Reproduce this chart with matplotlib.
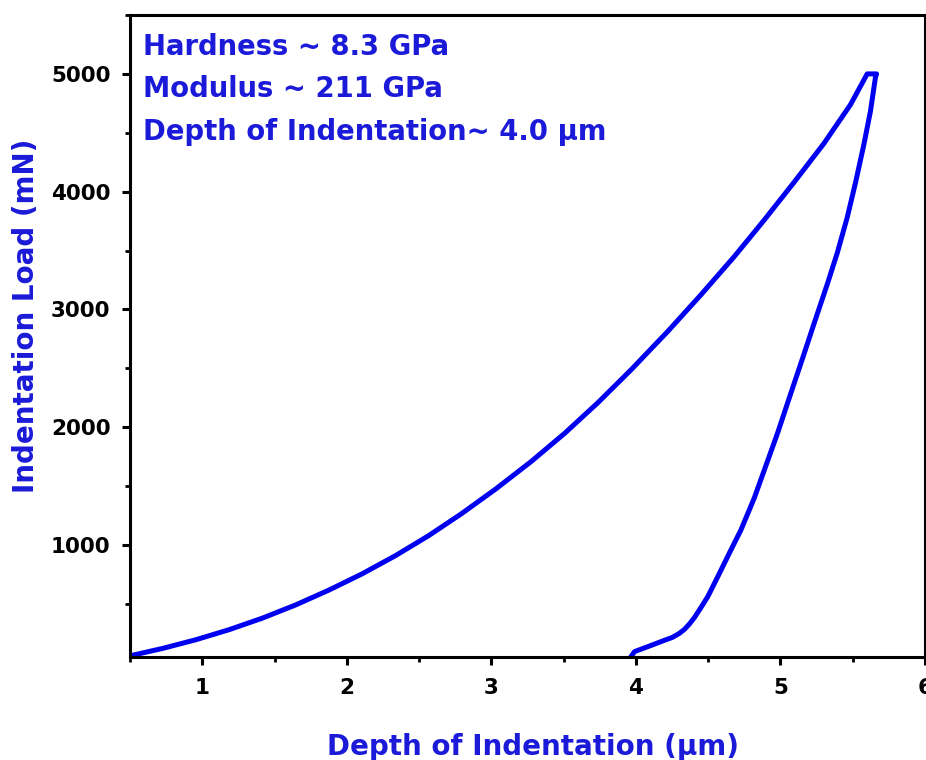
# Load-displacement curve from nanoindentation

import numpy as np
import matplotlib.pyplot as plt
from matplotlib.ticker import MultipleLocator

plt.rcParams['font.family'] = ['DejaVu Sans']
plt.rcParams['font.weight'] = 'bold'

# loading branch (depth in um, load in mN)
load_depth = [0.5, 0.726, 0.957, 1.186, 1.416, 1.646, 1.876, 2.106, 2.336, 2.566,
              2.795, 3.03, 3.276, 3.508, 3.738, 3.968, 4.221, 4.45, 4.681, 4.888,
              5.094, 5.301, 5.485, 5.60]
load_force = [60, 123, 197, 282, 380, 492, 618, 756, 910, 1080,
              1268, 1476, 1710, 1950, 2210, 2490, 2815, 3125, 3450, 3760,
              4080, 4410, 4740, 5000]

# hold at peak load
hold_depth = [5.60, 5.665]
hold_force = [5000, 5000]

# unloading branch
unload_depth = [5.665, 5.657, 5.623, 5.577, 5.519, 5.462, 5.393, 5.324, 5.232, 5.157,
                5.071, 4.979, 4.888, 4.819, 4.726, 4.657, 4.566, 4.497, 4.45, 4.405,
                4.37, 4.336, 4.30, 4.25, 4.198, 4.083, 3.991, 3.97]
unload_force = [5000, 4969, 4686, 4400, 4075, 3782, 3480, 3215, 2879, 2600,
                2286, 1947, 1636, 1400, 1127, 958, 731, 562, 470, 385,
                330, 285, 250, 215, 192, 138, 96, 60]

notes = ['Hardness ~ 8.3 GPa', 'Modulus ~ 211 GPa', 'Depth of Indentation~ 4.0 \u03bcm']

line_color = '#0000f0'
text_color = '#1a1ad8'

fig = plt.figure(figsize=(9.26, 7.6), dpi=100)
ax = fig.add_axes([130/926, 103/760, 795/926, 642/760])

depth = np.concatenate([load_depth, hold_depth, unload_depth])
force = np.concatenate([load_force, hold_force, unload_force])
ax.plot(depth, force, color=line_color, lw=3.6, solid_joinstyle='round')

# annotations
for idx, note in enumerate(notes):
    ax.text(0.0164, 0.9377 - idx * 0.0662, note, transform=ax.transAxes,
            color=text_color, fontsize=19.8, fontweight='bold', va='baseline', ha='left')

# plot params
ax.set_xlim(0.5, 6.0)
ax.set_ylim(50, 5500)
ax.xaxis.set_major_locator(MultipleLocator(1))
ax.xaxis.set_minor_locator(MultipleLocator(0.5))
ax.yaxis.set_major_locator(MultipleLocator(1000))
ax.yaxis.set_minor_locator(MultipleLocator(500))

for spine in ax.spines.values():
    spine.set_linewidth(2.2)
ax.tick_params(which='major', direction='out', length=6, width=2.2, labelsize=15.5)
ax.tick_params(which='minor', direction='out', length=3.5, width=2.0)
ax.tick_params(axis='x', pad=9)
ax.tick_params(axis='y', pad=8)

ax.set_xlabel('Depth of Indentation (\u03bcm)', fontsize=20, fontweight='bold',
              color=text_color, va='baseline')
ax.xaxis.set_label_coords(0.507, -0.1526)
ax.set_ylabel('Indentation Load (mN)', fontsize=20, fontweight='bold',
              color=text_color)
ax.yaxis.set_label_coords(-0.113, 0.531)

fig.savefig('out.png', dpi=100)
